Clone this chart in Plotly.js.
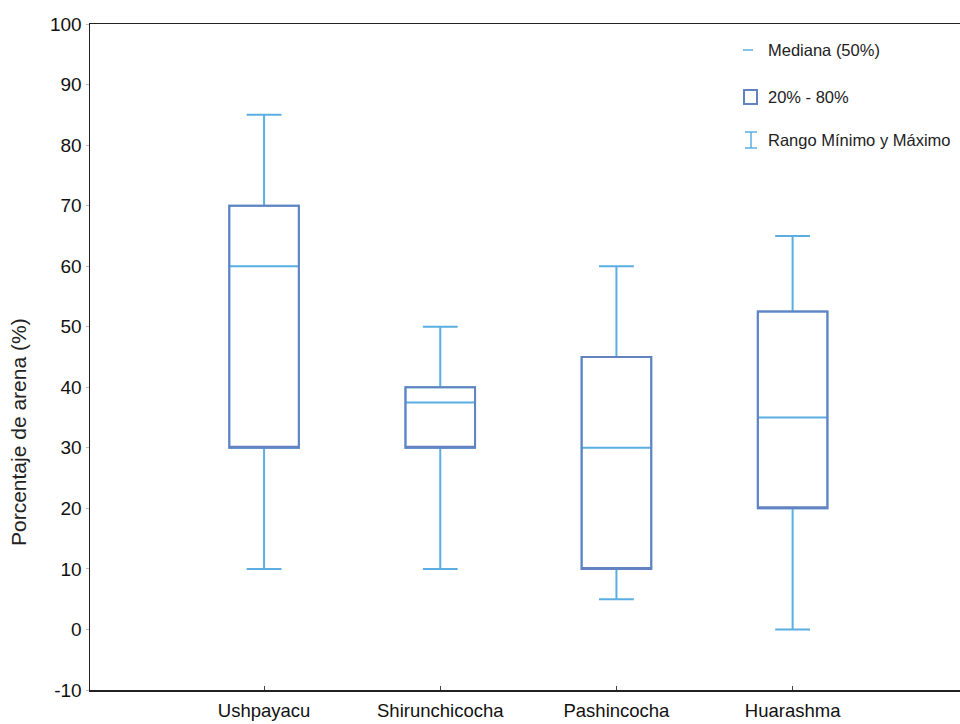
<!DOCTYPE html>
<html>
<head>
<meta charset="utf-8">
<script src="https://cdn.plot.ly/plotly-3.0.1.min.js"></script>
<style>html,body{margin:0;padding:0;background:#fff;}#chart{width:960px;height:724px;}</style>
</head>
<body>
<div id="chart"></div>
<script>
// Data
const categories = ["Ushpayacu", "Shirunchicocha", "Pashincocha", "Huarashma"];
const minimo  = [10, 10, 5, 0];
const p20     = [30, 30, 10, 20];
const mediana = [60, 37.5, 30, 35];
const p80     = [70, 40, 45, 52.5];
const maximo  = [85, 50, 60, 65];
const yTicks  = [-10, 0, 10, 20, 30, 40, 50, 60, 70, 80, 90, 100];

const lightBlue = "#5aaee2";
const darkBlue = "#6282c2";
const font = "Liberation Sans, Arial, sans-serif";

// Whiskers, median and box in light blue
const traceFull = {
  type: "box",
  x: categories,
  q1: p20, median: mediana, q3: p80,
  lowerfence: minimo, upperfence: maximo,
  width: 0.395,
  whiskerwidth: 0.5,
  fillcolor: "rgba(255,255,255,1)",
  line: {color: lightBlue, width: 2},
  boxpoints: false,
  showlegend: false,
  hoverinfo: "skip"
};
// Box outline (20% - 80%) in darker blue on top
const traceBox = {
  type: "box",
  x: categories,
  q1: p20, median: p20, q3: p80,
  lowerfence: p20, upperfence: p80,
  width: 0.395,
  whiskerwidth: 0,
  fillcolor: "rgba(0,0,0,0)",
  line: {color: darkBlue, width: 2},
  boxpoints: false,
  showlegend: false,
  hoverinfo: "skip"
};

function px(x){ return (x-90)/870; }
function py(y){ return 1 - (y-24)/666; }

const legendFont = {family: font, size: 16.5, color: "#222"};
const layout = {
  width: 960, height: 724,
  margin: {l: 90, r: 0, t: 24, b: 34},
  paper_bgcolor: "#fff", plot_bgcolor: "#fff",
  showlegend: false,
  boxmode: "overlay",
  xaxis: {
    type: "category",
    range: [-0.988, 3.95],
    showline: true, linecolor: "#222", linewidth: 1.5, mirror: true,
    ticks: "inside", ticklen: 4, tickcolor: "#444", tickwidth: 1,
    showgrid: false, zeroline: false,
    tickfont: {family: font, size: 18.5, color: "#111"},
    ticklabelstandoff: 3
  },
  yaxis: {
    range: [-10, 100],
    tickvals: yTicks,
    ticktext: yTicks.map(String),
    showline: true, linecolor: "#222", linewidth: 1.5,
    ticks: "outside", ticklen: 3, tickcolor: "#bbb", tickwidth: 1,
    showgrid: false, zeroline: false,
    tickfont: {family: font, size: 19, color: "#111"}
  },
  annotations: [
    {xref: "paper", yref: "paper", x: px(18), y: py(432),
     xanchor: "center", yanchor: "middle", text: "Porcentaje de arena (%)", showarrow: false,
     textangle: -90, font: {family: font, size: 21, color: "#222"}},
    {xref: "paper", yref: "paper", x: px(766), y: py(50), xanchor: "left", yanchor: "middle",
     text: "Mediana (50%)", showarrow: false, font: legendFont},
    {xref: "paper", yref: "paper", x: px(766), y: py(97), xanchor: "left", yanchor: "middle",
     text: "20% - 80%", showarrow: false, font: legendFont},
    {xref: "paper", yref: "paper", x: px(766), y: py(140), xanchor: "left", yanchor: "middle",
     text: "Rango Mínimo y Máximo", showarrow: false, font: legendFont}
  ],
  shapes: [
    {type: "line", xref: "paper", yref: "paper", x0: px(743), x1: px(753), y0: py(50), y1: py(50), line: {color: lightBlue, width: 1.5}},
    {type: "rect", xref: "paper", yref: "paper", x0: px(744), x1: px(757), y0: py(90), y1: py(104), line: {color: darkBlue, width: 2}},
    {type: "line", xref: "paper", yref: "paper", x0: px(751), x1: px(751), y0: py(132), y1: py(148), line: {color: lightBlue, width: 1.5}},
    {type: "line", xref: "paper", yref: "paper", x0: px(745), x1: px(757), y0: py(132), y1: py(132), line: {color: lightBlue, width: 1.5}},
    {type: "line", xref: "paper", yref: "paper", x0: px(745), x1: px(757), y0: py(148), y1: py(148), line: {color: lightBlue, width: 1.5}}
  ]
};

Plotly.newPlot("chart", [traceFull, traceBox], layout, {displayModeBar: false, staticPlot: true});
</script>
</body>
</html>
